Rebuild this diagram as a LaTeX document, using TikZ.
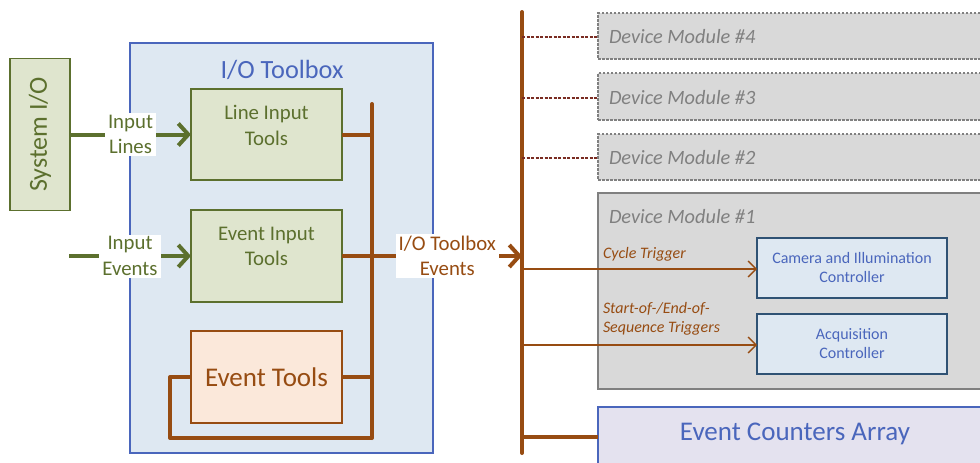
\documentclass[tikz,border=0pt]{standalone}
\usepackage{fontspec}
\setmainfont{Carlito}
\usetikzlibrary{arrows.meta}
\definecolor{grn}{HTML}{5C702E}
\definecolor{grnfill}{HTML}{DFE5CE}
\definecolor{brn}{HTML}{974C12}
\definecolor{brnfill}{HTML}{FBE8DA}
\definecolor{blu}{HTML}{4A66BC}
\definecolor{blufill}{HTML}{DEE8F2}
\definecolor{gry}{HTML}{808080}
\definecolor{gryfill}{HTML}{D9D9D9}
\definecolor{dred}{HTML}{7A2C22}
\definecolor{dblu}{HTML}{2F5274}
\definecolor{lav}{HTML}{E4E2EF}
\begin{document}
\begin{tikzpicture}[x=1pt,y=-1pt,
  every node/.style={inner sep=0pt, outer sep=0pt},
  gbox/.style={draw=grn, fill=grnfill, line width=1.8pt},
  gtxt/.style={text=grn, align=center, font=\fontsize{20.8}{25.5}\selectfont},
  garrow/.style={draw=grn, line width=4pt, -{Straight Barb[length=10pt,width=22pt]}},
  wlbl/.style={fill=white, inner xsep=3pt, inner ysep=2pt, align=center, font=\fontsize{20.8}{25.5}\selectfont},
  bus/.style={draw=brn, line width=4pt},
  busarrow/.style={draw=brn, line width=4pt, -{Straight Barb[length=10pt,width=22pt]}},
  thinarrow/.style={draw=brn, line width=1.3pt, -{Straight Barb[length=8pt,width=16pt]}},
  dmod/.style={draw=gry, fill=gryfill, line width=1.3pt, dash pattern=on 2.5pt off 1.5pt, anchor=north west, minimum width=400pt},
  dmtxt/.style={text=gry, anchor=west, font=\fontsize{20.3}{24}\selectfont\itshape},
  ctrl/.style={draw=dblu, fill=blufill, line width=1.8pt, minimum width=190pt, minimum height=60pt},
  ctxt/.style={text=blu, align=center, font=\fontsize{16}{19.5}\selectfont},
  dotcon/.style={draw=dred, line width=1.5pt, dash pattern=on 3pt off 1.5pt},
  trig/.style={text=brn, anchor=west, align=left, font=\fontsize{16}{18.5}\selectfont\itshape}
]
\clip (0,0) rectangle (980,463);
\fill[white] (0,0) rectangle (980,463);

% System I/O
\node[gbox, minimum width=60pt, minimum height=152pt] (sys) at (40,134.5) {};
\node[rotate=90, text=grn, font=\fontsize{26}{31}\selectfont] (systxt) at (sys.center) {System I/O};

% I/O Toolbox
\node[draw=blu, fill=blufill, line width=1.5pt, minimum width=303pt, minimum height=410pt, anchor=north west] (tb) at (130,43) {};
\node[text=blu, font=\fontsize{26.3}{31}\selectfont] (tbtxt) at (282,70) {I/O Toolbox};

% inner tools
\node[gbox, minimum width=151pt, minimum height=91pt] (lit) at (266.5,134.5) {};
\node[gtxt] (littxt) at (266.5,125.5) {Line Input\\Tools};
\node[gbox, minimum width=151pt, minimum height=92pt] (eit) at (266.5,256) {};
\node[gtxt] (eittxt) at (266.5,246.5) {Event Input\\Tools};
\node[draw=brn, fill=brnfill, line width=1.8pt, minimum width=151pt, minimum height=92pt, text=brn, font=\fontsize{27}{32}\selectfont] (et) at (266.5,377) {Event Tools};

% input arrows
\coordinate (iein) at (69,256);
\draw[garrow] (sys.east) -- node[wlbl, text=grn] (ill) {Input\\Lines} (lit.west);
\draw[garrow] (iein) -- node[wlbl, text=grn, pos=0.5] (iel) {Input\\Events} (eit.west);

% toolbox bus
\coordinate (bt) at (372,104);
\coordinate (bb) at (372,438);
\coordinate (b1) at (372,134.5);
\coordinate (b3) at (372,377);
\coordinate (lp1) at (170,377);
\coordinate (lp2) at (170,438);
\draw[bus, line cap=round] (bt) -- (bb);
\draw[bus] (lit.east) -- (b1);
\draw[bus] (et.east) -- (b3);
\draw[bus, line join=round] (et.west) -- (lp1) -- (lp2) -- (bb);

% main bus
\coordinate (mt) at (522,12);
\coordinate (mb) at (522,453);
\coordinate (mi) at (522,256);
\draw[bus, line cap=round] (mt) -- (mb);
\draw[busarrow] (eit.east) -- node[wlbl, text=brn, pos=0.585] (tel) {I/O Toolbox\\Events} (mi);

% device modules
\node[dmod, minimum height=46pt] (dm4) at (598,13) {};
\node[dmod, minimum height=47pt] (dm3) at (598,73) {};
\node[dmod, minimum height=46pt] (dm2) at (598,134) {};
\node[draw=gry, fill=gryfill, line width=1.5pt, anchor=north west, minimum width=400pt, minimum height=196pt] (dm1) at (598,193) {};
\node[dmtxt] (dm4t) at (609,37) {Device Module \#4};
\node[dmtxt] (dm3t) at (609,98) {Device Module \#3};
\node[dmtxt] (dm2t) at (609,158) {Device Module \#2};
\node[dmtxt] (dm1t) at (609,217) {Device Module \#1};

\coordinate (d4) at (522,37);
\coordinate (d3) at (522,98);
\coordinate (d2) at (522,158);
\coordinate (d4e) at (598,37);
\coordinate (d3e) at (598,98);
\coordinate (d2e) at (598,158);
\draw[dotcon] (d4) -- (d4e);
\draw[dotcon] (d3) -- (d3e);
\draw[dotcon] (d2) -- (d2e);

% controllers
\node[ctrl] (cam) at (852,268) {};
\node[ctxt] (camt) at (852,267.5) {Camera and Illumination\\Controller};
\node[ctrl] (acq) at (852,344) {};
\node[ctxt] (acqt) at (852,343.5) {Acquisition\\Controller};

\coordinate (c1) at (522,269);
\coordinate (c2) at (522,345);
\draw[thinarrow] (c1) -- (cam.west |- c1);
\draw[thinarrow] (c2) -- (acq.west |- c2);
\node[trig] (ct) at (603,254) {Cycle Trigger};
\node[trig] (st) at (603,319) {Start-of-/End-of-\\Sequence Triggers};

% event counters
\node[draw=blu, fill=lav, line width=1.5pt, anchor=north west, minimum width=400pt, minimum height=80pt] (eca) at (598,407) {};
\node[text=blu, font=\fontsize{27}{32}\selectfont] (ecat) at (795,434) {Event Counters Array};
\coordinate (ec1) at (522,437);
\coordinate (ec2) at (598,437);
\draw[bus] (ec1) -- (ec2);
\end{tikzpicture}
\end{document}
